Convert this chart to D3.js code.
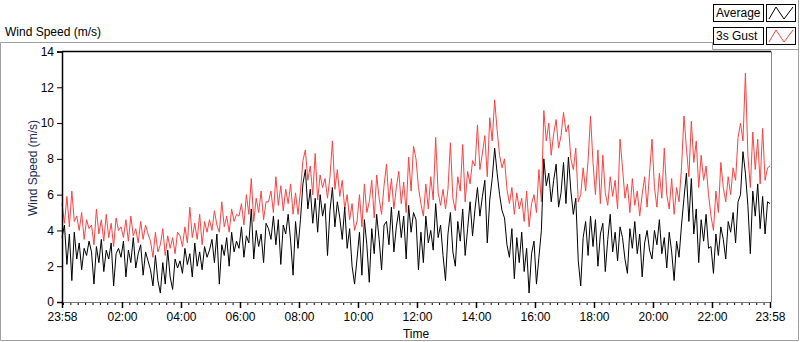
<!DOCTYPE html>
<html><head><meta charset="utf-8">
<script src="https://cdn.jsdelivr.net/npm/d3@7/dist/d3.min.js"></script>
<style>
html,body{margin:0;padding:0;background:#fff;}
svg{display:block;font-family:"Liberation Sans",Arial,sans-serif;}
</style></head>
<body><svg id="chart" width="800" height="342"></svg>
<script>
// ---- data (5-minute samples starting 23:58) ----
const seriesNames = ["Average", "3s Gust"];
const startTimeLabel = "23:58";
const sampleMinutes = 5;
const xTickLabels = ["23:58","02:00","04:00","06:00","08:00","10:00","12:00","14:00","16:00","18:00","20:00","22:00","23:58"];
const yTickValues = [0,2,4,6,8,10,12,14];

const avgSpeed = [
3.6,4.3,2.1,3.8,1.2,3.9,2.4,3.3,1.8,3.0,2.6,3.4,
2.8,1.0,3.1,2.2,3.5,1.7,2.9,2.4,3.3,0.9,2.7,3.0,
2.5,3.4,1.4,2.9,2.2,3.6,1.9,2.7,3.2,1.5,2.8,2.3,
1.8,0.9,2.6,1.2,0.5,2.2,1.0,2.9,1.4,0.7,2.4,1.9,
2.3,1.6,3.0,2.1,2.7,1.4,3.3,2.0,2.8,1.8,3.1,2.5,
2.9,3.5,2.2,3.8,1.0,3.2,2.6,3.6,2.0,3.9,2.8,3.4,
3.0,4.2,2.5,3.7,3.3,5.2,2.4,4.0,3.1,3.8,2.2,4.4,
4.1,3.5,4.8,3.2,4.6,2.1,4.3,3.8,4.9,3.4,1.5,4.5,
3.0,4.6,6.6,7.4,5.2,6.3,4.4,5.8,3.9,6.0,4.8,5.5,
2.6,5.1,6.4,4.2,5.6,4.7,3.5,5.3,3.0,4.1,2.0,1.0,
2.4,3.9,1.5,4.6,3.2,1.1,4.1,2.7,4.9,3.5,1.8,4.3,
4.5,3.2,5.3,2.8,4.2,5.1,3.6,4.8,2.4,5.4,3.9,5.0,
4.6,1.8,3.9,2.2,4.8,3.3,4.0,2.9,5.5,3.6,4.3,2.6,
1.2,3.8,5.0,2.8,2.0,4.5,3.4,5.2,2.6,4.1,5.6,3.7,
5.2,6.4,4.8,5.9,6.8,3.3,5.7,6.9,8.6,7.2,6.0,5.1,
4.7,3.2,2.5,4.1,1.3,3.6,2.2,3.9,1.7,3.0,0.5,2.7,
3.4,1.0,2.5,4.0,8.0,6.5,7.2,5.6,6.8,7.7,5.3,6.1,
7.8,5.5,8.1,6.2,4.9,5.8,2.3,0.9,3.6,4.5,2.6,4.8,
3.1,4.6,2.0,3.8,4.4,1.7,3.5,4.9,2.8,3.9,2.3,4.2,
3.6,2.4,1.6,4.1,3.0,4.5,2.7,3.8,1.4,3.3,4.0,2.9,
2.4,4.0,3.2,4.6,2.7,3.6,1.9,3.9,2.8,1.2,3.4,2.5,
4.3,5.8,7.2,4.5,6.9,3.8,5.2,2.2,4.6,3.4,4.9,3.0,
3.1,1.6,3.8,2.6,4.2,3.5,2.4,4.5,3.9,5.0,3.3,5.6,
6.0,8.4,7.2,5.4,2.7,6.2,4.8,6.6,4.1,5.9,3.8,5.6,
5.5];

const gustSpeed = [
5.5,4.4,5.9,4.2,6.2,4.5,4.8,4.0,5.0,3.5,4.6,4.1,
4.3,3.2,5.2,3.8,4.6,3.4,4.9,3.6,4.4,3.1,4.7,4.0,
4.2,3.6,4.6,3.4,4.8,3.7,4.1,3.3,4.5,3.5,4.3,3.8,
3.4,2.5,3.9,2.8,3.2,4.1,2.6,3.7,3.0,3.6,2.7,3.9,
3.7,3.1,4.2,3.3,5.3,3.6,4.4,3.5,4.9,3.2,4.5,3.9,
4.6,4.0,5.1,4.3,3.9,5.6,4.2,4.8,3.9,5.2,4.5,4.9,
4.8,5.5,4.3,6.0,4.9,6.9,4.5,5.8,5.0,6.2,4.6,5.6,
5.6,6.2,5.0,7.0,5.4,6.5,5.1,6.3,5.5,6.6,4.9,6.1,
4.9,6.2,7.9,8.5,6.8,7.6,6.0,8.3,5.7,7.1,6.4,6.9,
5.8,7.0,9.0,6.3,7.4,5.9,6.8,5.2,6.0,4.6,5.5,4.0,
4.5,6.0,4.2,6.6,5.0,5.6,6.8,4.7,7.1,5.8,4.9,6.5,
7.7,5.6,6.9,5.2,6.4,7.3,5.5,6.7,5.0,8.1,6.2,8.7,
8.0,6.4,5.5,4.8,6.6,5.2,7.0,5.7,9.2,6.1,5.4,6.3,
5.2,6.3,8.9,5.8,5.1,7.0,6.2,8.8,5.6,7.3,6.6,7.9,
7.6,9.9,7.4,8.3,9.3,7.0,10.3,9.0,11.3,9.6,8.2,7.5,
8.0,6.3,5.5,6.4,4.9,6.1,5.2,5.8,4.5,6.2,4.2,5.5,
6.0,5.0,7.4,5.6,10.7,9.0,10.0,8.2,9.4,10.2,8.6,9.3,
10.6,9.5,9.9,8.0,7.4,8.6,5.6,6.0,7.5,6.2,7.9,10.4,
7.8,6.0,8.5,5.5,8.2,6.1,5.4,7.0,5.9,6.8,5.2,9.1,
7.5,5.8,6.6,5.0,6.9,5.4,6.2,4.8,6.0,7.0,5.3,7.2,
9.1,6.4,5.3,7.2,5.8,8.6,6.0,5.2,6.9,4.9,6.4,5.6,
7.5,10.4,8.6,7.0,10.1,7.8,9.0,6.4,8.2,6.8,7.6,6.0,
4.8,4.0,6.2,5.0,7.8,6.4,5.6,7.0,6.0,7.5,6.8,9.2,
10.0,9.0,12.8,8.2,6.4,9.5,7.4,9.1,6.6,9.7,6.8,7.5,
7.6];

const seriesColors = ["#000000", "#ff4040"];

// ---- setup ----
const svg = d3.select("#chart");
const W = 800, H = 342;
const plot = {left: 62, right: 770, top: 51.5, bottom: 302};

const parseT = d3.timeParse("%Y-%m-%d %H:%M");
const t0 = parseT("2020-01-01 " + startTimeLabel);
const t1 = d3.timeDay.offset(t0, 1);
const times = avgSpeed.map((_, i) => d3.timeMinute.offset(t0, i * sampleMinutes));

const x = d3.scaleTime().domain([t0, t1]).range([plot.left, plot.right]);
const y = d3.scaleLinear().domain([0, 14]).range([plot.bottom, plot.top]);

// outer frame
const gray = "#a0a0a0";
svg.append("path").attr("fill","none").attr("stroke",gray).attr("stroke-width",1)
  .attr("d", `M0.5,42.5 H712.5 V49.5 H798.5 M0.5,42.5 V340.5 H798.5 V0`);

// title
svg.append("text").attr("x",5).attr("y",36).attr("font-size",12).attr("fill","#000")
  .text("Wind Speed (m/s)");

// legend
const legend = svg.append("g");
seriesNames.forEach((name, i) => {
  const yy = 4 + i * 23;
  legend.append("rect").attr("x",713.5).attr("y",yy+0.5).attr("width",50).attr("height",17)
    .attr("fill","#fff").attr("stroke","#000");
  legend.append("text").attr("x",716).attr("y",yy+13).attr("font-size",12).text(name);
  legend.append("rect").attr("x",766.5).attr("y",yy+0.5).attr("width",29).attr("height",17)
    .attr("fill","#fff").attr("stroke","#000");
  legend.append("path").attr("fill","none").attr("stroke",seriesColors[i]).attr("stroke-width",1)
    .attr("d", `M769,${yy+15} L776,${yy+3} L784,${yy+15} L793,${yy+3}`);
});

// plot frame
svg.append("line").attr("x1",plot.left).attr("x2",plot.right+1).attr("y1",plot.top).attr("y2",plot.top)
  .attr("stroke","#000").attr("stroke-width",1.5);
svg.append("line").attr("x1",plot.right+1.5).attr("x2",plot.right+1.5).attr("y1",plot.top).attr("y2",plot.bottom)
  .attr("stroke","#888");

// series lines
const lineGen = (vals) => d3.line().x((d, i) => x(times[i])).y(d => y(d))(vals);
svg.append("path").attr("d", lineGen(gustSpeed)).attr("fill","none")
  .attr("stroke", seriesColors[1]).attr("stroke-width",1);
svg.append("path").attr("d", lineGen(avgSpeed)).attr("fill","none")
  .attr("stroke", seriesColors[0]).attr("stroke-width",1);

// y axis
const yAxis = svg.append("g").attr("transform",`translate(${plot.left},0)`)
  .call(d3.axisLeft(y).tickValues(yTickValues).tickSize(5).tickPadding(3).tickFormat(d3.format("d")));
yAxis.selectAll("text").attr("font-size",12).attr("fill","#000").attr("font-family","Liberation Sans, Arial, sans-serif");
yAxis.select(".domain").attr("stroke","#000").attr("stroke-width",1.5);

// x axis
const xTickTimes = xTickLabels.map((lab, i) => i === 0 ? t0 : (i === xTickLabels.length - 1 ? t1 : parseT("2020-01-02 " + lab)));
const minorTimes = d3.timeMinute.every(15).range(d3.timeMinute.offset(t0, 2), t1);
const xMinor = svg.append("g").attr("transform",`translate(0,${plot.bottom})`)
  .call(d3.axisBottom(x).tickValues(minorTimes).tickSize(3).tickFormat(""));
xMinor.select(".domain").remove();
const xAxis = svg.append("g").attr("transform",`translate(0,${plot.bottom})`)
  .call(d3.axisBottom(x).tickValues(xTickTimes).tickSize(6).tickPadding(4)
    .tickFormat((d, i) => xTickLabels[i]));
xAxis.select(".domain").attr("stroke","#777");
xAxis.selectAll("line").attr("stroke-width",1.5);
xAxis.selectAll("text").attr("font-size",12).attr("fill","#000").attr("font-family","Liberation Sans, Arial, sans-serif");

// axis titles
svg.append("text").attr("x",416).attr("y",338).attr("text-anchor","middle").attr("font-size",12)
  .attr("fill","#000").text("Time");
svg.append("text").attr("transform","translate(37,168) rotate(-90)").attr("text-anchor","middle")
  .attr("font-size",12).attr("fill","#1c2c54").text("Wind Speed (m/s)");
</script></body></html>
